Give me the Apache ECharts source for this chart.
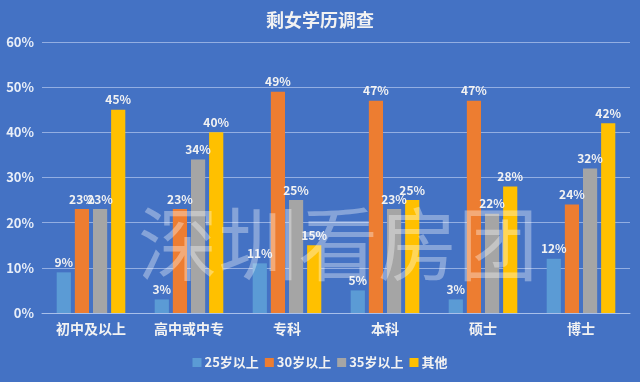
<!DOCTYPE html>
<html><head><meta charset="utf-8">
<script src="https://cdn.jsdelivr.net/npm/echarts@6/dist/echarts.min.js"></script>
<style>html,body{margin:0;padding:0;background:#4472C4;}#c{width:640px;height:382px;}</style>
</head><body><div id="c"></div>
<script>
var categories = ['初中及以上','高中或中专','专科','本科','硕士','博士'];
var seriesNames = ['25岁以上','30岁以上','35岁以上','其他'];
var s25 = [9, 3, 11, 5, 3, 12];
var s30 = [23, 23, 49, 47, 47, 24];
var s35 = [23, 34, 25, 23, 22, 32];
var sOther = [45, 40, 15, 25, 28, 42];
var colors = ['#5B9BD5','#ED7D31','#A5A5A5','#FFC000'];
var font = '"Noto Sans CJK SC", "Noto Sans", sans-serif';
var chart = echarts.init(document.getElementById('c'));
var data = [s25, s30, s35, sOther];
chart.setOption({
  backgroundColor: '#4472C4',
  animation: false,
  title: { text: '剩女学历调查', left: 'center', top: 6,
    textStyle: { color: '#F2F2F2', fontSize: 18, fontWeight: 'bold', fontFamily: font } },
  legend: { bottom: 8, itemWidth: 9, itemHeight: 9, itemGap: 6, icon: 'rect',
    textStyle: { color: '#F2F2F2', fontSize: 13, fontWeight: 'bold', fontFamily: font, padding: [0,0,0,-2] },
    data: seriesNames },
  grid: { left: 42, right: 10, top: 42, bottom: 69 },
  xAxis: { type: 'category', data: categories,
    axisLine: { lineStyle: { color: '#A9C0EA', width: 1 } }, axisTick: { show: false },
    axisLabel: { color: '#F2F2F2', fontSize: 14, fontWeight: 'bold', fontFamily: font, margin: 9 } },
  yAxis: { type: 'value', min: 0, max: 60, interval: 10,
    axisLabel: { formatter: '{value}%', color: '#E8EEF8', fontSize: 13, fontWeight: 'bold', fontFamily: font, margin: 8 },
    splitLine: { lineStyle: { color: '#93AEE2', width: 1 } }, axisLine: { show: false }, axisTick: { show: false } },
  series: seriesNames.map(function(n, i){
    return { name: n, type: 'bar', data: data[i], barGap: '28%', barCategoryGap: '30%',
      itemStyle: { color: colors[i] },
      label: { show: true, position: 'top', formatter: '{c}%', color: '#F2F2F2', fontSize: 12, fontWeight: 'bold', fontFamily: font, distance: 4 } };
  }),
  graphic: [{ type: 'text', left: 138, top: 204, z: 100, silent: true,
    style: { text: '深圳看房团', fontSize: 80, fontFamily: font, fontWeight: 'normal', fill: 'rgba(255,255,255,0.35)' } }]
});
</script></body></html>
